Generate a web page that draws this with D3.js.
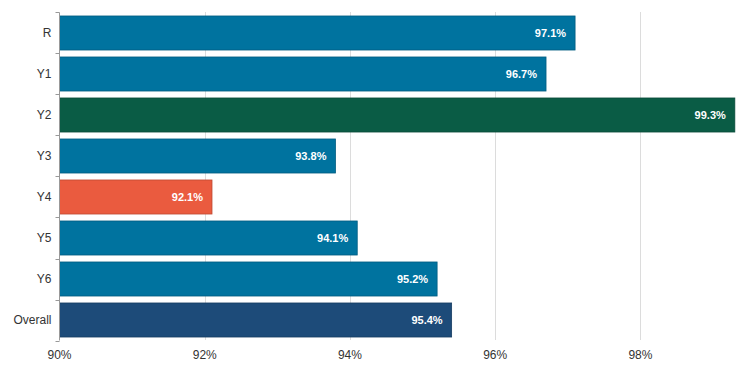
<!DOCTYPE html>
<html>
<head>
<meta charset="utf-8">
<script src="https://cdn.jsdelivr.net/npm/d3@7"></script>
<style>
  body { margin: 0; background: #fff; }
  svg text { font-family: "Liberation Sans", Arial, sans-serif; }
</style>
</head>
<body>
<div id="chart"></div>
<script>
// data
const categories = ["R", "Y1", "Y2", "Y3", "Y4", "Y5", "Y6", "Overall"];
const values = [97.1, 96.7, 99.3, 93.8, 92.1, 94.1, 95.2, 95.4];
const barColors = ["#00739f", "#00739f", "#0a5c45", "#00739f", "#ea5b3f", "#00739f", "#00739f", "#1d4b79"];
const xTicks = [90, 92, 94, 96, 98];

const width = 755, height = 380;

const svg = d3.select("#chart").append("svg")
  .attr("width", width)
  .attr("height", height);

const x = d3.scaleLinear()
  .domain([90, 99.33])
  .range([59.5, 737]);

const y = d3.scaleBand()
  .domain(categories)
  .range([12.5, 340.5])
  .paddingInner(0.17)
  .paddingOuter(0.085);

// gridlines
svg.append("g")
  .selectAll("line")
  .data(xTicks.slice(1))
  .enter().append("line")
  .attr("x1", d => Math.round(x(d)) + 0.5)
  .attr("x2", d => Math.round(x(d)) + 0.5)
  .attr("y1", 12)
  .attr("y2", 340)
  .attr("stroke", "#dcdcdc")
  .attr("stroke-width", 1);

// bars
const rows = categories.map((c, i) => ({ cat: c, val: values[i], color: barColors[i] }));

svg.append("g")
  .selectAll("rect")
  .data(rows)
  .enter().append("rect")
  .attr("x", x(90))
  .attr("y", d => y(d.cat))
  .attr("width", d => x(d.val) - x(90))
  .attr("height", y.bandwidth())
  .attr("fill", d => d.color)
  .attr("stroke", d => d3.color(d.color).darker(0.6))
  .attr("stroke-width", 0.8);

// value labels
svg.append("g")
  .selectAll("text")
  .data(rows)
  .enter().append("text")
  .attr("x", d => x(d.val) - 9)
  .attr("y", d => y(d.cat) + y.bandwidth() / 2)
  .attr("dy", "0.35em")
  .attr("text-anchor", "end")
  .attr("fill", "#fff")
  .attr("font-size", 11)
  .attr("font-weight", "bold")
  .text(d => d.val.toFixed(1) + "%");

// y axis
const yAxis = svg.append("g")
  .attr("transform", "translate(59.5,0)");
yAxis.append("line")
  .attr("y1", 12.5).attr("y2", 340.5)
  .attr("stroke", "#999");
const edges = categories.map(c => y(c) - y.step() * y.paddingInner() / 2);
edges.push(340.5);
yAxis.selectAll(".tk")
  .data(edges)
  .enter().append("line")
  .attr("x1", -4).attr("x2", 0)
  .attr("y1", d => Math.round(d) + 0.5)
  .attr("y2", d => Math.round(d) + 0.5)
  .attr("stroke", "#999");
yAxis.selectAll("text")
  .data(categories)
  .enter().append("text")
  .attr("x", -8)
  .attr("y", d => y(d) + y.bandwidth() / 2)
  .attr("dy", "0.35em")
  .attr("text-anchor", "end")
  .attr("fill", "#333")
  .attr("font-size", 12)
  .text(d => d);

// x axis labels
svg.append("g")
  .selectAll("text")
  .data(xTicks)
  .enter().append("text")
  .attr("x", d => x(d))
  .attr("y", 355)
  .attr("dy", "0.35em")
  .attr("text-anchor", "middle")
  .attr("fill", "#333")
  .attr("font-size", 12)
  .text(d => d + "%");
</script>
</body>
</html>
